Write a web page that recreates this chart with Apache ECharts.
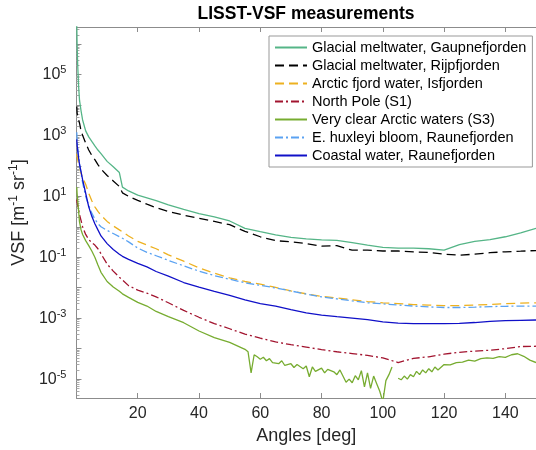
<!DOCTYPE html>
<html>
<head>
<meta charset="utf-8">
<script src="https://cdn.jsdelivr.net/npm/echarts@6.0.0/dist/echarts.min.js"></script>
<style>
  html, body { margin: 0; padding: 0; background: #fff; }
  #main { width: 536px; height: 450px; }
</style>
</head>
<body>
<div id="main"></div>
<script>
// scattering angles [deg] shared by most curves
const angles = [0.1, 0.2, 0.4, 0.7, 1, 1.5, 2, 3, 4, 5, 6, 7, 8, 10, 12, 14, 15, 17, 20, 23, 26, 30,
  35, 40, 45, 50, 55, 60, 65, 70, 75, 80, 85, 90, 95, 100, 105, 110, 115, 120, 125, 130, 135, 140, 145, 150]

// VSF [1/(m sr)]
const gaupnefjorden = [4.0e6, 1.0e6, 2.0e5, 4.0e4, 1.4e4, 6.3e3, 3.2e3, 1.4e3, 890, 630, 450, 330, 250, 140, 93, 60,
  20, 15, 11, 8.9, 7.2, 5.2, 3.7, 2.7, 2.1, 1.55, 0.89, 0.69, 0.54, 0.45, 0.40, 0.37, 0.36, 0.30, 0.25, 0.21,
  0.20, 0.20, 0.19, 0.17, 0.26, 0.33, 0.38, 0.47, 0.63, 0.89]
const rijpfjorden = [8.9e3, 5.6e3, 4.0e3, 3.2e3, 2.5e3, 1.4e3, 1.0e3, 560, 330, 220, 160, 110, 79, 48, 32, 21,
  13, 10, 7.4, 5.5, 4.2, 3.2, 2.4, 1.9, 1.5, 1.17, 0.71, 0.47, 0.35, 0.32, 0.28, 0.23, 0.24, 0.17, 0.17, 0.16,
  0.16, 0.15, 0.145, 0.126, 0.117, 0.126, 0.141, 0.151, 0.158, 0.166]
const isfjorden = [250, 200, 160, 112, 89, 56, 40, 25, 12.6, 7.1, 4.5, 3.2, 2.4, 1.5, 1.07, 0.79,
  0.68, 0.50, 0.33, 0.25, 0.19, 0.12, 0.074, 0.045, 0.030, 0.021, 0.016, 0.013, 0.0102, 7.9e-3, 6.3e-3, 5.2e-3,
  4.6e-3, 4.0e-3, 3.5e-3, 3.2e-3, 3.0e-3, 2.8e-3, 2.7e-3, 2.6e-3, 2.6e-3, 2.7e-3, 2.8e-3, 3.0e-3, 3.1e-3, 3.2e-3]
const northPole = [7.9, 6.3, 5.0, 3.5, 2.5, 1.6, 1.0, 0.56, 0.38, 0.30, 0.25, 0.19, 0.13, 0.060, 0.035, 0.022,
  0.018, 0.0117, 8.3e-3, 6.6e-3, 5.0e-3, 3.2e-3, 1.8e-3, 1.07e-3, 6.6e-4, 4.5e-4, 3.0e-4, 2.2e-4, 1.66e-4, 1.35e-4,
  1.12e-4, 9.3e-5, 7.9e-5, 6.9e-5, 6.0e-5, 5.0e-5, 3.5e-5, 4.8e-5, 5.4e-5, 6.6e-5, 7.6e-5, 8.3e-5, 8.9e-5, 1.0e-4,
  1.17e-4, 1.2e-4]
const huxleyi = [1260, 710, 400, 200, 112, 56, 28, 10, 5.0, 2.8, 1.78, 1.26, 1.0, 0.76, 0.60, 0.47,
  0.42, 0.32, 0.20, 0.145, 0.112, 0.079, 0.052, 0.035, 0.025, 0.019, 0.0145, 0.012, 9.8e-3, 7.8e-3, 6.2e-3, 5.0e-3,
  4.3e-3, 3.7e-3, 3.2e-3, 2.95e-3, 2.7e-3, 2.5e-3, 2.35e-3, 2.24e-3, 2.24e-3, 2.3e-3, 2.4e-3, 2.45e-3, 2.5e-3, 2.5e-3]
const coastal = [740, 500, 320, 178, 112, 63, 35, 12.6, 4.5, 2.2, 1.26, 0.79, 0.50, 0.28, 0.18, 0.126,
  0.107, 0.085, 0.063, 0.048, 0.034, 0.024, 0.0148, 0.0105, 7.6e-3, 5.6e-3, 4.0e-3, 3.0e-3, 2.5e-3, 1.9e-3, 1.5e-3,
  1.26e-3, 1.12e-3, 1.0e-3, 8.9e-4, 7.6e-4, 6.9e-4, 6.6e-4, 6.6e-4, 6.6e-4, 6.8e-4, 7.2e-4, 7.9e-4, 8.3e-4, 8.5e-4, 8.7e-4]

// S3 is noisier, so it gets its own finer angle list (null = gap in the record)
const s3Angles = [0.1, 0.2, 0.4, 0.7, 1, 1.5, 2, 3, 4, 5, 6, 7, 8, 10, 12, 14, 15, 17, 20, 23, 26, 30, 35, 40, 45, 50,
  55, 56, 57, 58, 59, 60, 61, 62, 63, 64, 66, 67, 68, 70, 71, 72, 74, 75, 76, 77, 78, 80, 81, 82, 84, 85, 86, 88, 89,
  90, 91, 92, 93, 94, 95, 96, 97, 98, 99, 100, 101, 102, 103, 104, 105, 106, 107, 108, 109, 110, 111, 112, 113, 114,
  115, 116, 117, 118, 120, 122, 124, 126, 128, 130, 132, 134, 136, 138, 140, 142, 144, 146, 148, 150]
const clearArctic = [20, 12.6, 7.1, 3.2, 1.41, 0.79, 0.56, 0.35, 0.24, 0.16, 0.10, 0.056, 0.032, 0.016, 0.0105,
  7.6e-3, 6.3e-3, 4.8e-3, 3.3e-3, 2.5e-3, 1.66e-3, 1.12e-3, 7.1e-4, 3.8e-4, 2.3e-4, 1.6e-4,
  9.5e-5, 7.9e-5, 1.6e-5, 6.3e-5, 5.4e-5, 4.5e-5, 5.2e-5, 4.0e-5, 4.7e-5, 3.5e-5, 3.2e-5, 4.0e-5, 2.8e-5, 3.2e-5,
  2.4e-5, 3.0e-5, 2.2e-5, 2.7e-5, 1.2e-5, 2.5e-5, 1.8e-5, 2.3e-5, 1.6e-5, 2.1e-5, 1.74e-5, 1.4e-5, 2.0e-5, 7.9e-6,
  1.0e-5, 7.6e-6, 1.3e-5, 9.5e-6, 1.9e-5, 5.6e-6, 1.6e-5, 5.0e-6, 1.26e-5, 7.1e-6, 4.0e-6, 1.8e-6, 8.9e-6, 1.4e-5,
  2.5e-5, null, 1.07e-5, 9.5e-6, 1.26e-5, 1.0e-5, 1.4e-5, 1.2e-5, 1.8e-5, 1.4e-5, 2.0e-5, 1.6e-5,
  2.2e-5, 1.74e-5, 2.5e-5, 2.0e-5, 3.0e-5, 2.95e-5, 3.5e-5, 3.6e-5, 4.2e-5, 3.9e-5, 4.7e-5, 5.0e-5, 4.8e-5, 5.5e-5,
  5.2e-5, 6.3e-5, 6.8e-5, 5.6e-5, 4.2e-5, 3.5e-5]

const yLabelValues = [1e-5, 1e-3, 1e-1, 1e1, 1e3, 1e5]
const yMajorTicks = [1e-5, 1e-4, 1e-3, 1e-2, 1e-1, 1, 1e1, 1e2, 1e3, 1e4, 1e5, 1e6]

const font = 'Liberation Sans, Arial, Helvetica, sans-serif'
const axisGray = '#8c8c8c'
const textColor = '#262626'

// minor log ticks 2..9 x 10^n
const yMinorTicks = []
for (let e = -6; e <= 6; e++) {
  for (let k = 2; k <= 9; k++) yMinorTicks.push(k * Math.pow(10, e))
}

const pairs = (xs, ys) => xs.map((x, i) => [x, ys[i]])

const seriesList = [
  { name: 'Glacial meltwater, Gaupnefjorden', color: '#55b587', type: 'solid', x: angles, y: gaupnefjorden },
  { name: 'Glacial meltwater, Rijpfjorden', color: '#000000', type: [9, 5], x: angles, y: rijpfjorden },
  { name: 'Arctic fjord water, Isfjorden', color: '#edb120', type: [9, 5], x: angles, y: isfjorden },
  { name: 'North Pole (S1)', color: '#a2142f', type: [8, 3, 2, 3], x: angles, y: northPole },
  { name: 'Very clear Arctic waters (S3)', color: '#77ac30', type: 'solid', x: s3Angles, y: clearArctic },
  { name: 'E. huxleyi bloom, Raunefjorden', color: '#5aa2f2', type: [8, 3, 2, 3], x: angles, y: huxleyi },
  { name: 'Coastal water, Raunefjorden', color: '#1010c8', type: 'solid', x: angles, y: coastal },
]

const chart = echarts.init(document.getElementById('main'))

const option = {
  animation: false,
  backgroundColor: '#fff',
  title: {
    text: 'LISST-VSF measurements',
    left: 306,
    top: 5,
    padding: 0,
    textAlign: 'center',
    textStyle: { fontSize: 17.5, fontWeight: 'bold', color: '#000', fontFamily: font },
  },
  legend: {
    data: seriesList.map((s) => s.name),
    orient: 'vertical',
    left: 269,
    top: 36,
    itemWidth: 32,
    itemHeight: 14,
    itemGap: 3,
    padding: [4, 6, 4, 5],
    borderColor: '#999',
    borderWidth: 1,
    backgroundColor: '#fff',
    itemStyle: { opacity: 0 },
    textStyle: { fontSize: 14.5, color: '#000', fontFamily: font },
  },
  grid: { left: 70, right: -6, top: 27, bottom: 51, containLabel: false },
  xAxis: [
    {
      type: 'value',
      min: 0,
      max: 150,
      interval: 20,
      name: 'Angles [deg]',
      nameLocation: 'middle',
      nameGap: 29,
      nameTextStyle: { fontSize: 18, color: textColor, fontFamily: font },
      axisLine: { lineStyle: { color: axisGray } },
      axisTick: { inside: true, length: 5, lineStyle: { color: axisGray } },
      axisLabel: {
        margin: 8,
        fontSize: 16,
        color: textColor,
        fontFamily: font,
        showMaxLabel: false,
        formatter: (v) => (v === 0 ? '' : v),
      },
      splitLine: { show: false },
    },
    {
      type: 'value',
      position: 'top',
      min: 0,
      max: 150,
      interval: 20,
      axisLine: { lineStyle: { color: axisGray } },
      axisTick: { inside: true, length: 5, lineStyle: { color: axisGray } },
      axisLabel: { show: false },
      splitLine: { show: false },
    },
  ],
  yAxis: [
    {
      type: 'log',
      logBase: 10,
      min: 2.4e-6,
      max: 3.6e6,
      name: '{a|VSF [m}{s|-1}{a| sr}{s|-1}{a|]}',
      nameLocation: 'middle',
      nameGap: 37,
      nameRotate: 90,
      nameTextStyle: {
        color: textColor,
        rich: {
          a: { fontSize: 18, color: textColor, fontFamily: font, lineHeight: 22 },
          s: { fontSize: 12, color: textColor, fontFamily: font, verticalAlign: 'top', lineHeight: 12 },
        },
      },
      axisLine: { lineStyle: { color: axisGray } },
      axisTick: { inside: true, length: 5, customValues: yMajorTicks, lineStyle: { color: axisGray } },
      axisLabel: {
        margin: 10,
        customValues: yLabelValues,
        formatter: (v) => '{b|10}{s|' + Math.round(Math.log10(v)) + '}',
        rich: {
          b: { fontSize: 16, color: textColor, fontFamily: font, lineHeight: 20 },
          s: { fontSize: 11, color: textColor, fontFamily: font, verticalAlign: 'top', lineHeight: 12 },
        },
      },
      splitLine: { show: false },
    },
    {
      type: 'log',
      logBase: 10,
      min: 2.4e-6,
      max: 3.6e6,
      position: 'left',
      axisLine: { show: false },
      axisTick: { inside: true, length: 3, customValues: yMinorTicks, lineStyle: { color: '#aaaaaa' } },
      axisLabel: { show: false },
      splitLine: { show: false },
    },
  ],
  series: seriesList.map((s) => ({
    name: s.name,
    type: 'line',
    xAxisIndex: 0,
    yAxisIndex: 0,
    data: pairs(s.x, s.y),
    symbol: 'none',
    connectNulls: false,
    color: s.color,
    lineStyle: { color: s.color, width: 1.3, type: s.type },
    silent: true,
  })),
}

chart.setOption(option)
</script>
</body>
</html>
